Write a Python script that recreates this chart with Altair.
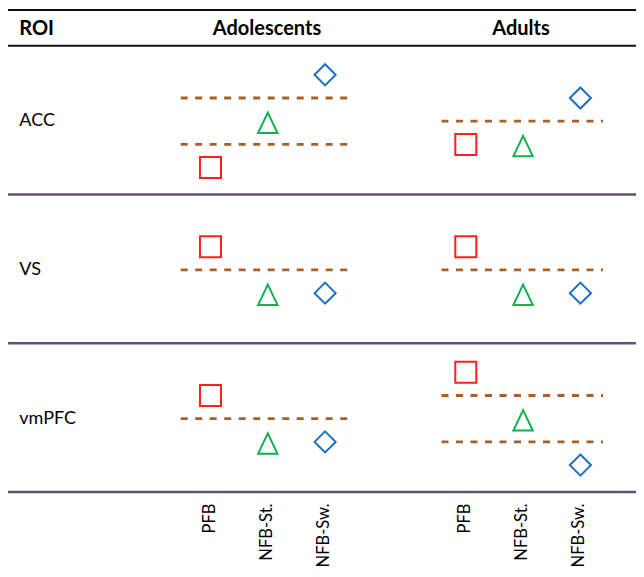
import altair as alt
import pandas as pd

# ---------------- data ----------------
ROIS = ["ACC", "VS", "vmPFC"]
GROUPS = ["Adolescents", "Adults"]
CONDITIONS = ["PFB", "NFB-St.", "NFB-Sw."]
HEADER = "ROI"

# relative level of each condition within a ROI row (up = higher)
ADOLESCENT_LEVELS = [[-2, 0, 2], [1, -1, -1], [1, -1, -1]]
ADULT_LEVELS = [[-1, -1, 1], [1, -1, -1], [2, 0, -2]]
# dashed reference lines, in the same level units
ADOLESCENT_LINES = [[1, -1], [0], [0]]
ADULT_LINES = [[0], [0], [1, -1]]

# ---------------- layout ----------------
W, H = 628, 561
COND_X0, COND_STEP, GROUP_STEP = 202.5, 57.3, 255.3
LINE_X = [(172.7, 345.0), (433.5, 595.0)]
HEADER_X = [259.0, 513.0]
LABEL_X = 11.3
ROW_Y0, ROW_STEP, LEVEL_STEP = 113.2, 148.75, 23.2
ROW_HALF = 73.3
TOP_RULE_Y, HEAD_RULE_Y, HEAD_BASE_Y = 2.0, 37.7, 26.7
XLAB_TOP = 495.5

FONT = "Lato"
RED, GREEN, BLUE = "#ff1f1f", "#12b04f", "#1a6fc2"
BROWN = "#a8602a"
PURPLE = "#5e5276"

SHAPES = [
    "M-0.955,-0.955H0.955V0.955H-0.955Z",
    "M0,-0.78L0.88,1.07L-0.88,1.07Z",
    "M0,-0.96L0.96,0L0,0.96L-0.96,0Z",
]

levels = [ADOLESCENT_LEVELS, ADULT_LEVELS]
lines = [ADOLESCENT_LINES, ADULT_LINES]

pts, dashes = [], []
for g, grp in enumerate(GROUPS):
    for r, roi in enumerate(ROIS):
        yc = ROW_Y0 + r * ROW_STEP
        for c, cond in enumerate(CONDITIONS):
            pts.append({"group": grp, "roi": roi, "cond": cond,
                        "level": levels[g][r][c],
                        "x": COND_X0 + g * GROUP_STEP + c * COND_STEP,
                        "y": yc - levels[g][r][c] * LEVEL_STEP})
        for lv in lines[g][r]:
            dashes.append({"group": grp, "roi": roi, "level": lv,
                           "x": LINE_X[g][0], "x2": LINE_X[g][1],
                           "y": yc - lv * LEVEL_STEP})
pts = pd.DataFrame(pts)
dashes = pd.DataFrame(dashes)

black_rules = pd.DataFrame({"x": [0, 0], "x2": [W, W], "y": [TOP_RULE_Y, HEAD_RULE_Y]})
row_rules = pd.DataFrame({"x": [0] * 3, "x2": [W] * 3,
                          "y": [ROW_Y0 + r * ROW_STEP + ROW_HALF for r in range(3)]})

head_df = pd.DataFrame({"text": [HEADER] + GROUPS,
                        "x": [LABEL_X] + HEADER_X,
                        "y": [HEAD_BASE_Y] * 3})
roi_df = pd.DataFrame({"text": ROIS, "x": [LABEL_X] * 3,
                       "y": [ROW_Y0 + r * ROW_STEP for r in range(3)]})
xlab_df = pd.DataFrame([{"text": cond,
                         "x": COND_X0 + g * GROUP_STEP + c * COND_STEP - 1,
                         "y": XLAB_TOP}
                        for g in range(2) for c, cond in enumerate(CONDITIONS)])

xs = alt.Scale(domain=[0, W], nice=False, zero=False)
ys = alt.Scale(domain=[0, H], nice=False, zero=False, reverse=True)
X = lambda f="x": alt.X(f"{f}:Q", scale=xs, axis=None)
Y = lambda f="y": alt.Y(f"{f}:Q", scale=ys, axis=None)

l_black = alt.Chart(black_rules).mark_rule(color="#111111", strokeWidth=2).encode(
    x=X(), x2="x2:Q", y=Y())
l_purple = alt.Chart(row_rules).mark_rule(color=PURPLE, strokeWidth=2.4).encode(
    x=X(), x2="x2:Q", y=Y())
l_dash = alt.Chart(dashes).mark_rule(color=BROWN, strokeWidth=2.8,
                                     strokeDash=[7, 7.5]).encode(
    x=X(), x2="x2:Q", y=Y())
l_pts = alt.Chart(pts).mark_point(filled=False, strokeWidth=2, size=484,
                                  opacity=1).encode(
    x=X(), y=Y(),
    shape=alt.Shape("cond:N", scale=alt.Scale(domain=CONDITIONS, range=SHAPES), legend=None),
    color=alt.Color("cond:N", scale=alt.Scale(domain=CONDITIONS, range=[RED, GREEN, BLUE]), legend=None),
)
l_head_left = alt.Chart(head_df.iloc[:1]).mark_text(
    font=FONT, fontSize=20, fontWeight="bold", align="left", baseline="alphabetic",
    color="#000000").encode(x=X(), y=Y(), text="text:N")
l_head_mid = alt.Chart(head_df.iloc[1:]).mark_text(
    font=FONT, fontSize=20, fontWeight="bold", align="center", baseline="alphabetic",
    color="#000000").encode(x=X(), y=Y(), text="text:N")
l_roi = alt.Chart(roi_df).mark_text(
    font=FONT, fontSize=18, align="left", baseline="middle", color="#000000").encode(
    x=X(), y=Y(), text="text:N")
l_xlab = alt.Chart(xlab_df).mark_text(
    font=FONT, fontSize=16.5, align="right", baseline="middle", angle=270,
    color="#000000").encode(x=X(), y=Y(), text="text:N")

chart = alt.layer(l_purple, l_black, l_dash, l_pts, l_head_left, l_head_mid, l_roi, l_xlab).properties(
    width=W, height=H, padding=0, autosize=alt.AutoSizeParams(type="none")
).configure_view(stroke=None)

chart.save("out.html", embed_options={"renderer": "svg", "actions": False})
